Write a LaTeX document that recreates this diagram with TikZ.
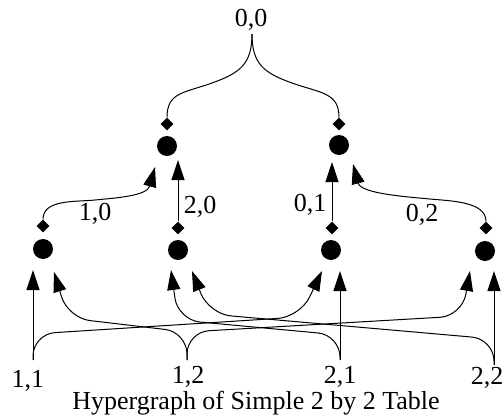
\documentclass[tikz,border=0pt]{standalone}
\usepackage{fontspec}
\setmainfont{Liberation Serif}
\usetikzlibrary{arrows.meta,shapes.geometric}
\begin{document}
\begin{tikzpicture}[x=1pt,y=-1pt,
  dot/.style={circle,fill=black,inner sep=0pt,minimum size=20pt},
  dia/.style={diamond,fill=black,inner sep=0pt,minimum size=13pt},
  lbl/.style={inner sep=0pt,font=\fontsize{26}{28}\selectfont},
  link/.style={line width=1pt},
  arr/.style={link,-{Triangle[length=20pt,width=13pt]}},
  curvedarr/.style={arr,rounded corners=22pt}]
\useasboundingbox (0,0) rectangle (504,418);
% upper hyperedges
\node[dot] (UL) at (167,146) {};
\node[dia] (ULd) at (167,124) {};
\node[dot] (UR) at (339,145) {};
\node[dia] (URd) at (339,124) {};
% lower hyperedges
\node[dot] (D1) at (43,249) {};
\node[dia] (D1d) at (43,226) {};
\node[dot] (D2) at (178,250) {};
\node[dia] (D2d) at (178,228) {};
\node[dot] (D3) at (331,250) {};
\node[dia] (D3d) at (332,228) {};
\node[dot] (D4) at (485,251) {};
\node[dia] (D4d) at (486,228) {};
% arrow tips
\coordinate (ULa) at (155,167);
\coordinate (ULb) at (178,160);
\coordinate (URa) at (332,162);
\coordinate (URb) at (353,164);
\coordinate (D1a) at (33,270);
\coordinate (D1b) at (54,272);
\coordinate (D2a) at (171,270);
\coordinate (D2b) at (192,271);
\coordinate (D3a) at (322,271);
\coordinate (D3b) at (340,271);
\coordinate (D4a) at (470,271);
\coordinate (D4b) at (494,271);
% sources
\coordinate (T0) at (252,34);
\coordinate (S11) at (33,360);
\coordinate (S12) at (187,360);
\coordinate (S21) at (340,360);
\coordinate (S22) at (494,365);
% labels
\node[lbl] (L00) at (251,20) {0,0};
\node[lbl] (L10) at (95,214) {1,0};
\node[lbl] (L20) at (200,207) {2,0};
\node[lbl] (L01) at (310,205) {0,1};
\node[lbl] (L02) at (422,215) {0,2};
\node[lbl] (L11) at (28,381) {1,1};
\node[lbl] (L12) at (188,377) {1,2};
\node[lbl] (L21) at (340,377) {2,1};
\node[lbl] (L22) at (487,378) {2,2};
\node[lbl] (cap) at (256,403) {Hypergraph of Simple 2 by 2 Table};
% top split
\draw[link] (T0) .. controls +(0,30) and +(28,-10) .. (212,83)
  .. controls +(-28,10) and +(0,-25) .. (ULd.north);
\draw[link] (T0) .. controls +(0,30) and +(-28,-10) .. (292,83)
  .. controls +(28,10) and +(0,-25) .. (URd.north);
% margins to total
\draw[arr] (D1d.north) .. controls +(0,-20) and +(-20,2) .. (95,200)
  .. controls +(20,-2) and +(-8,29) .. (ULa);
\draw[arr] (D2d.north) -- (ULb);
\draw[arr] (D3d.north) -- (URa);
\draw[arr] (D4d.north) .. controls +(0,-20) and +(20,2) .. (430,199)
  .. controls +(-20,-2) and +(8,30) .. (URb);
% cells to margins
\draw[arr] (S11) -- (D1a);
\draw[curvedarr] (S11) -- (33,334) -- (300,317) -- (D3a);
\draw[curvedarr] (S12) -- (187,332) -- (68,318) -- (D1b);
\draw[curvedarr] (S12) -- (187,332) -- (462,316) -- (D4a);
\draw[arr] (S21) -- (D3b);
\draw[curvedarr] (S21) -- (340,335) -- (178,320) -- (D2a);
\draw[arr] (S22) -- (D4b);
\draw[curvedarr] (S22) -- (494,339) -- (209,314) -- (D2b);
\end{tikzpicture}
\end{document}
